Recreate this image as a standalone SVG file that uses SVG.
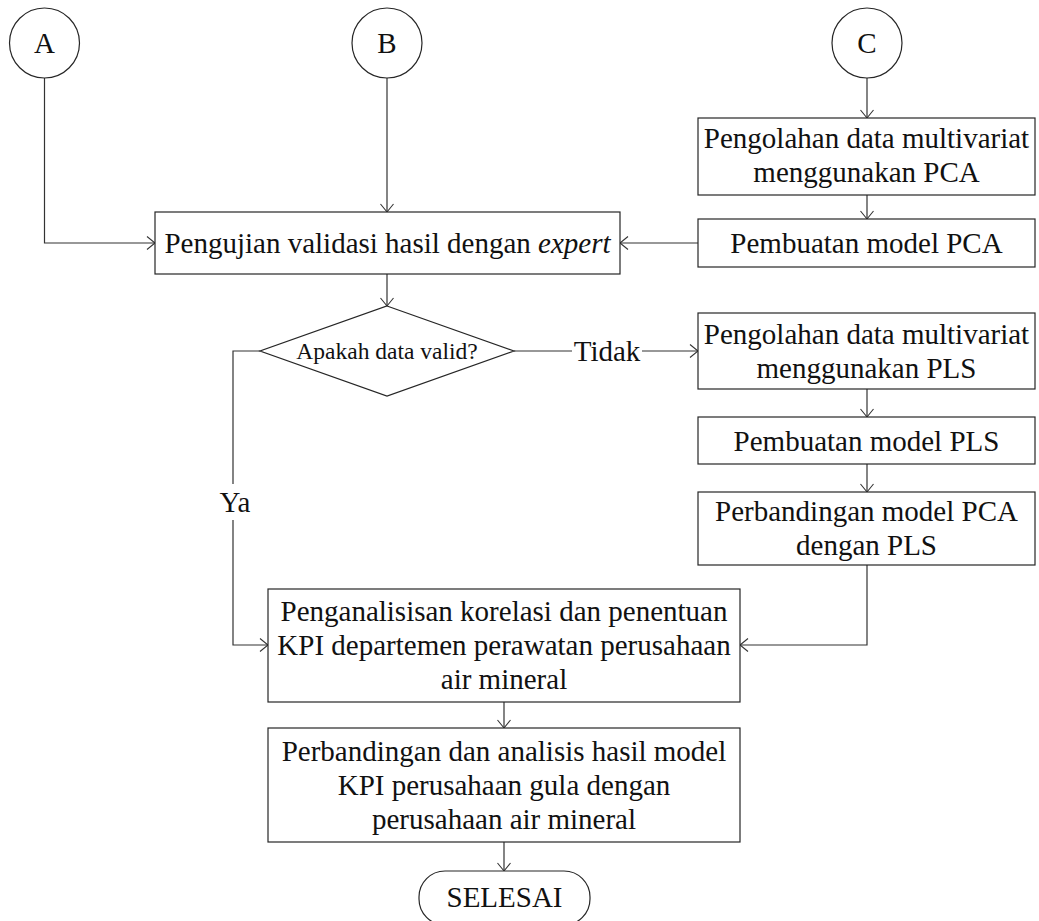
<svg xmlns="http://www.w3.org/2000/svg" width="1039" height="921" viewBox="0 0 1039 921">
  <style>
    .shape { fill: #ffffff; stroke: #262626; stroke-width: 1.2; }
    .link { fill: none; stroke: #333333; stroke-width: 1.2; }
    .t { font-family: "Liberation Serif", "Times New Roman", serif; font-size: 29px; fill: #111111; text-anchor: middle; }
    .small { font-size: 23.5px; }
  </style>
  <defs>
    <marker id="arrow" viewBox="0 0 10 14" refX="9" refY="7" markerWidth="10" markerHeight="14" markerUnits="userSpaceOnUse" orient="auto">
      <path d="M1,0.5 L9,7 L1,13.5" fill="none" stroke="#333333" stroke-width="1.1"/>
    </marker>
  </defs>

  <!-- connectors -->
  <g id="connectors">
    <polyline class="link" points="44.5,78 44.5,243 155,243" marker-end="url(#arrow)"/>
    <line class="link" x1="387" y1="78" x2="387" y2="212" marker-end="url(#arrow)"/>
    <line class="link" x1="867" y1="78" x2="867" y2="118" marker-end="url(#arrow)"/>
    <line class="link" x1="867" y1="195" x2="867" y2="219" marker-end="url(#arrow)"/>
    <line class="link" x1="698" y1="243" x2="620" y2="243" marker-end="url(#arrow)"/>
    <line class="link" x1="387" y1="274" x2="387" y2="306" marker-end="url(#arrow)"/>
    <!-- "Tidak" branch -->
    <line class="link" x1="514" y1="351" x2="572" y2="351"/>
    <line class="link" x1="642" y1="351" x2="698" y2="351" marker-end="url(#arrow)"/>
    <text class="t" x="607" y="361">Tidak</text>
    <!-- "Ya" branch -->
    <polyline class="link" points="260,351 233,351 233,484"/>
    <polyline class="link" points="233,520 233,645 268,645" marker-end="url(#arrow)"/>
    <text class="t" x="235" y="512">Ya</text>
    <line class="link" x1="867" y1="389" x2="867" y2="417" marker-end="url(#arrow)"/>
    <line class="link" x1="867" y1="464" x2="867" y2="492" marker-end="url(#arrow)"/>
    <polyline class="link" points="867,565 867,645 740,645" marker-end="url(#arrow)"/>
    <line class="link" x1="504" y1="702" x2="504" y2="728" marker-end="url(#arrow)"/>
    <line class="link" x1="504" y1="842" x2="504" y2="871" marker-end="url(#arrow)"/>
  </g>

  <!-- off-page connectors -->
  <g id="conn-a">
    <circle class="shape" cx="44.5" cy="43" r="35"/>
    <text class="t" x="44.5" y="53">A</text>
  </g>
  <g id="conn-b">
    <circle class="shape" cx="387" cy="43" r="35"/>
    <text class="t" x="387" y="53">B</text>
  </g>
  <g id="conn-c">
    <circle class="shape" cx="867" cy="43" r="35"/>
    <text class="t" x="867" y="53">C</text>
  </g>

  <!-- process steps -->
  <g id="validasi">
    <rect class="shape" x="155" y="212" width="465" height="62"/>
    <text class="t" x="387.5" y="252.5">Pengujian validasi hasil dengan <tspan font-style="italic">expert</tspan></text>
  </g>
  <g id="olah-pca">
    <rect class="shape" x="698" y="118" width="337" height="77"/>
    <text class="t" x="866.5" y="148">Pengolahan data multivariat</text>
    <text class="t" x="866.5" y="182">menggunakan PCA</text>
  </g>
  <g id="model-pca">
    <rect class="shape" x="698" y="219" width="337" height="48"/>
    <text class="t" x="866.5" y="252.5">Pembuatan model PCA</text>
  </g>
  <g id="keputusan">
    <polygon class="shape" points="387,306 514,351 387,396 260,351"/>
    <text class="t small" x="387" y="359">Apakah data valid?</text>
  </g>
  <g id="olah-pls">
    <rect class="shape" x="698" y="313" width="337" height="76"/>
    <text class="t" x="866.5" y="343.5">Pengolahan data multivariat</text>
    <text class="t" x="866.5" y="377.5">menggunakan PLS</text>
  </g>
  <g id="model-pls">
    <rect class="shape" x="698" y="417" width="337" height="47"/>
    <text class="t" x="866.5" y="450.5">Pembuatan model PLS</text>
  </g>
  <g id="banding-model">
    <rect class="shape" x="698" y="492" width="337" height="73"/>
    <text class="t" x="866.5" y="521">Perbandingan model PCA</text>
    <text class="t" x="866.5" y="555">dengan PLS</text>
  </g>
  <g id="analisis-kpi">
    <rect class="shape" x="268" y="589" width="472" height="113"/>
    <text class="t" x="504" y="621">Penganalisisan korelasi dan penentuan</text>
    <text class="t" x="504" y="655">KPI departemen perawatan perusahaan</text>
    <text class="t" x="504" y="689">air mineral</text>
  </g>
  <g id="banding-kpi">
    <rect class="shape" x="268" y="728" width="472" height="114"/>
    <text class="t" x="504" y="761">Perbandingan dan analisis hasil model</text>
    <text class="t" x="504" y="795">KPI perusahaan gula dengan</text>
    <text class="t" x="504" y="829">perusahaan air mineral</text>
  </g>
  <g id="selesai">
    <rect class="shape" x="419" y="871" width="171" height="54" rx="26" ry="26"/>
    <text class="t" x="504.5" y="907">SELESAI</text>
  </g>
</svg>
